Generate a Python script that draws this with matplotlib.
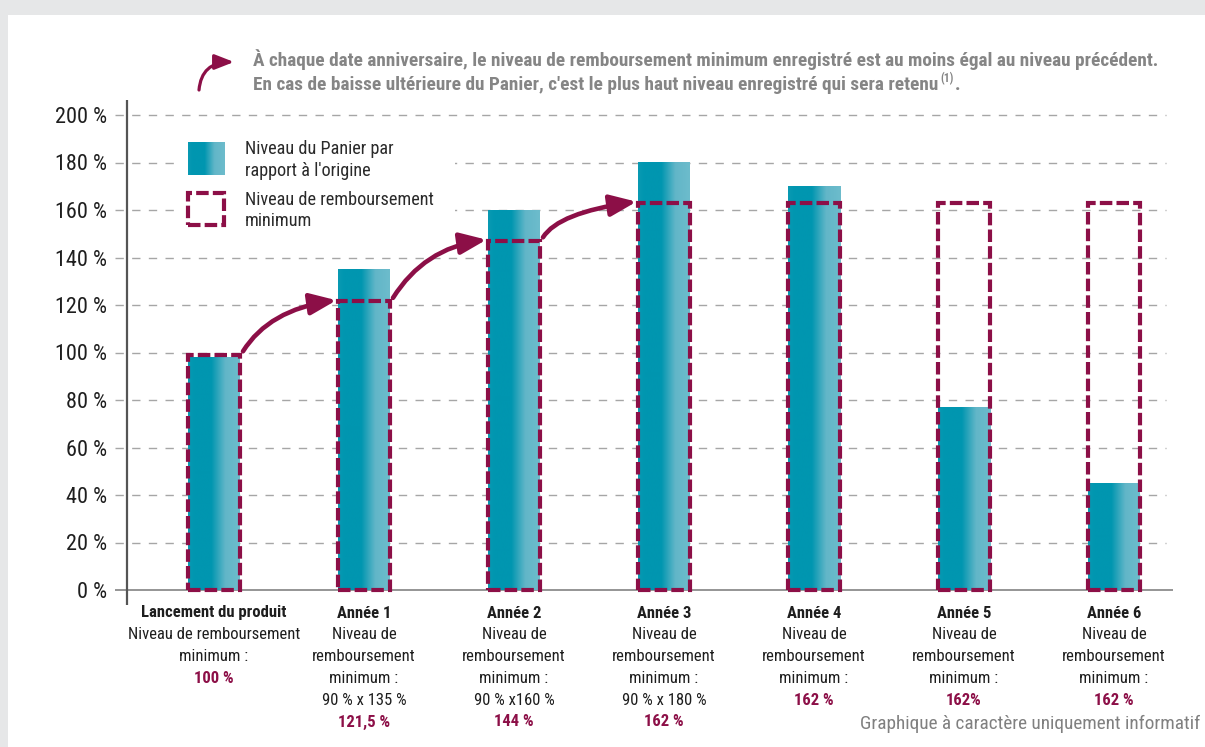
import matplotlib
matplotlib.use('Agg')
import matplotlib.pyplot as plt
import numpy as np
from matplotlib.patches import Rectangle, FancyArrowPatch
from matplotlib.colors import LinearSegmentedColormap
from matplotlib.transforms import blended_transform_factory

# ---------------- data ----------------
categories = ["Lancement du produit", "Année 1", "Année 2", "Année 3",
              "Année 4", "Année 5", "Année 6"]
panier = [98, 135, 160, 180, 170, 77, 45]
remboursement = [99, 121.5, 147, 163, 163, 163, 163]
descriptions = [
    ["Niveau de remboursement", "minimum :"],
    ["Niveau de", "remboursement", "minimum :", "90 % x 135 %"],
    ["Niveau de", "remboursement", "minimum :", "90 % x160 %"],
    ["Niveau de", "remboursement", "minimum :", "90 % x 180 %"],
    ["Niveau de", "remboursement", "minimum :"],
    ["Niveau de", "remboursement", "minimum :"],
    ["Niveau de", "remboursement", "minimum :"],
]
valeurs = ["100 %", "121,5 %", "144 %", "162 %", "162 %", "162%", "162 %"]
yticks = [0, 20, 40, 60, 80, 100, 120, 140, 160, 180, 200]
ytick_labels = [f"{v} %" for v in yticks]
legend_labels = ["Niveau du Panier par\nrapport à l'origine",
                 "Niveau de remboursement\nminimum"]
header_1 = ("À chaque date anniversaire, le niveau de remboursement minimum "
            "enregistré est au moins égal au niveau précédent.")
header_2 = "En cas de baisse ultérieure du Panier, c'est le plus haut niveau enregistré qui sera retenu"
footer = "Graphique à caractère uniquement informatif"

# ---------------- style ----------------
W, H = 1205, 747
FONT = ['Liberation Sans Narrow', 'Roboto Condensed', 'Liberation Sans', 'DejaVu Sans']
plt.rcParams['font.family'] = FONT
BURG = '#8c0f47'
TEAL_D = '#0096b0'
TEAL_L = '#6dbccc'
DARK = '#1e1e1e'
GREY_TXT = '#858585'

fig = plt.figure(figsize=(W / 100, H / 100), dpi=100, facecolor='#e6e7e8')
fig.patches.append(Rectangle((8 / W, 0), 1 - 8 / W, 1 - 15 / H, transform=fig.transFigure,
                             fc='white', ec='none', zorder=-5))

# axes geometry (pixels)
AX_L, AX_R, AX_T, AX_B = 115, 1173, 100, 605
X0, DX = 214, 150          # pixel of first category, pixels per category
Y0, DY = 590, 475 / 200    # pixel of 0 %, pixels per %
ax = fig.add_axes([AX_L / W, 1 - AX_B / H, (AX_R - AX_L) / W, (AX_B - AX_T) / H])
ax.set_facecolor('none')
ax.set_zorder(1)
for s in ax.spines.values():
    s.set_visible(False)

def dx_(px):
    return (px - X0) / DX

def dy_(py):
    return (Y0 - py) / DY

xlim = (dx_(AX_L), dx_(AX_R))
ylim = (dy_(AX_B), dy_(AX_T))

def fp(x, y):
    return (x / W, 1 - y / H)

# gridlines
grid_end = (1166 - AX_L) / (AX_R - AX_L)
for v in yticks[1:]:
    ax.axhline(v, xmax=grid_end, color='#a6a6a6', lw=1.0, ls=(0, (6, 6)), zorder=1)
ax.axhline(0, color='#8c8c8c', lw=1.3, zorder=1)
ax.axvline(dx_(127), color='#555555', lw=1.6, zorder=6)

ax.set_yticks(yticks)
ax.set_yticklabels(ytick_labels)
ax.set_xticks([])
ax.tick_params(axis='y', length=0, pad=5.8, labelcolor=DARK)

# bars with horizontal gradient
cmap = LinearSegmentedColormap.from_list(
    'teal', [(0, '#0a9ab3'), (0.12, TEAL_D), (0.45, TEAL_D), (0.72, '#62b6c8'), (1, TEAL_L)])
grad = np.linspace(0, 1, 256).reshape(1, -1)
bw = 52 / DX
for i, v in enumerate(panier):
    ax.imshow(grad, extent=[i - bw / 2, i + bw / 2, 0, v], aspect='auto', cmap=cmap,
              zorder=2, interpolation='bilinear')

# dashed minimum-level boxes
for i, r in enumerate(remboursement):
    ax.add_patch(Rectangle((i - bw / 2, 0), bw, r, fill=False, ec=BURG, lw=3.0,
                           ls=(0, (3, 1)), joinstyle='miter', zorder=3))

# curved arrows between successive levels
for i in range(3):
    a = FancyArrowPatch((i + bw / 2 + 0.02, remboursement[i] + 1.5),
                        (i + 1 - bw / 2 - 0.01, remboursement[i + 1] + 0.5),
                        connectionstyle="angle3,angleA=58,angleB=8",
                        arrowstyle="-|>,head_length=1.6,head_width=0.65",
                        mutation_scale=10, color=BURG, lw=3.3,
                        shrinkA=0, shrinkB=0, zorder=4)
    ax.add_patch(a)

# legend
ax.add_patch(Rectangle((dx_(178), dy_(232)), dx_(455) - dx_(178), dy_(135) - dy_(232),
                       fc='white', ec='none', zorder=1.5))
ax.imshow(grad, extent=[dx_(188), dx_(225), dy_(175), dy_(142)], aspect='auto', cmap=cmap,
          zorder=2, interpolation='bilinear')
ax.add_patch(Rectangle((dx_(188), dy_(225)), dx_(224) - dx_(188), dy_(193) - dy_(225),
                       fill=False, ec=BURG, lw=3.0, ls=(0, (3, 1)), joinstyle='miter', zorder=3))
ax.set_xlim(*xlim)
ax.set_ylim(*ylim)

r = fig.canvas.get_renderer()

def fit(t, target):
    for _ in range(3):
        w = t.get_window_extent(r).width
        t.set_fontsize(t.get_fontsize() * target / w)
    return t.get_fontsize()

# font sizes fitted to the reference text widths
probe = fig.text(0, 0, "Niveau de remboursement", fontsize=12)
fs_x = fit(probe, 172)
probe.remove()
probe = fig.text(0, 0, "Niveau de remboursement", fontsize=12)
fs_leg = fit(probe, 190)
probe.remove()
probe = fig.text(0, 0, "200 %", fontsize=12)
fs_tick = fit(probe, 52)
probe.remove()
ax.tick_params(axis='y', labelsize=fs_tick)

for (txt, yb) in zip(legend_labels, [154, 205]):
    l1, l2 = txt.split("\n")
    fig.text(*fp(245, yb), l1, fontsize=fs_leg, color='#2a2a2a', va='baseline', ha='left')
    fig.text(*fp(245, yb + 21.5), l2, fontsize=fs_leg, color='#2a2a2a', va='baseline', ha='left')

# category labels
trans = blended_transform_factory(ax.transData, fig.transFigure)
for i, cat in enumerate(categories):
    lines = [(cat, 'bold', DARK)] + [(d, 'normal', DARK) for d in descriptions[i]] + \
            [(valeurs[i], 'bold', BURG)]
    for k, (s, wgt, col) in enumerate(lines):
        fig.text(i, 1 - (617.5 + 21.8 * k) / H, s, transform=trans, ha='center', va='baseline',
                 fontsize=fs_x, fontweight=wgt, color=col)

# header
t1 = fig.text(*fp(253, 66), header_1, fontsize=12, fontweight='bold', color=GREY_TXT,
              ha='left', va='baseline')
fs_h = fit(t1, 902)
t2 = fig.text(*fp(253, 90), header_2, fontsize=fs_h, fontweight='bold', color=GREY_TXT,
              ha='left', va='baseline')
e2 = t2.get_window_extent(r)
t3 = fig.text((e2.x1 + 2) / W, 1 - 82 / H, "(1)", fontsize=fs_h * 0.6,
              fontweight='bold', color=GREY_TXT, ha='left', va='baseline')
e3 = t3.get_window_extent(r)
fig.text((e3.x1 + 1) / W, 1 - 90 / H, ".", fontsize=fs_h, fontweight='bold', color=GREY_TXT,
         ha='left', va='baseline')
hdr_arrow = FancyArrowPatch(fp(199, 90), fp(234, 62), transform=fig.transFigure,
                            connectionstyle="angle3,angleA=85,angleB=0",
                            arrowstyle="-|>,head_length=1.15,head_width=0.45",
                            mutation_scale=10, color=BURG, lw=2.3, shrinkA=0, shrinkB=0)
fig.patches.append(hdr_arrow)

# footer
tf = fig.text(*fp(1200, 729), footer, fontsize=fs_x, color='#808080', ha='right', va='baseline')
fit(tf, 340)

fig.savefig('out.png', dpi=100, facecolor=fig.get_facecolor())
